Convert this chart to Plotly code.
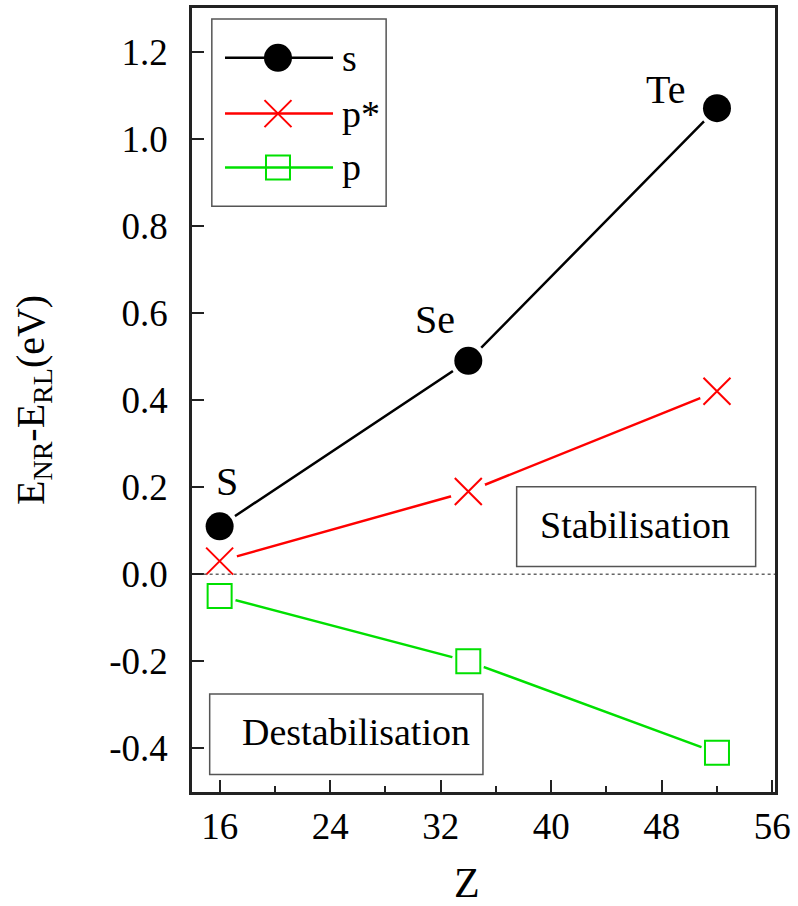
import plotly.graph_objects as go

# Atomic numbers of the chalcogens and relativistic corrections (eV)
elements = ["S", "Se", "Te"]
z_values = [16, 34, 52]
s_shift = [0.11, 0.49, 1.07]
pstar_shift = [0.03, 0.19, 0.42]
p_shift = [-0.05, -0.20, -0.41]

x_ticks = [16, 24, 32, 40, 48, 56]
y_ticks = [-0.4, -0.2, 0.0, 0.2, 0.4, 0.6, 0.8, 1.0, 1.2]

SERIF = "Liberation Serif, Times New Roman, serif"
GREEN = "#00e000"
RED = "#ff0000"

series = [
    ("s", s_shift, "black", dict(symbol="circle", size=28, color="black")),
    ("p*", pstar_shift, RED, dict(symbol="x-thin-open", size=27, color=RED,
                                    line=dict(color=RED, width=2))),
    ("p", p_shift, GREEN, dict(symbol="square-open", size=24, color=GREEN,
                               line=dict(color=GREEN, width=2))),
]

fig = go.Figure()

# connecting lines
for name, vals, col, mk in series:
    fig.add_trace(go.Scatter(x=z_values, y=vals, mode="lines",
                             line=dict(color=col, width=2.5),
                             showlegend=False, hoverinfo="skip"))
# white halos leave a small gap between line and symbol
for name, vals, col, mk in series:
    fig.add_trace(go.Scatter(x=z_values, y=vals, mode="markers",
                             marker=dict(symbol="circle", size=mk["size"] + 9,
                                         color="white"),
                             showlegend=False, hoverinfo="skip"))
for name, vals, col, mk in series:
    fig.add_trace(go.Scatter(x=z_values, y=vals, mode="markers", marker=mk,
                             name=name, showlegend=False))

# hand-drawn legend on an overlay axis spanning the plot area
legend_rows = [0.9365, 0.8653, 0.7967]
leg_x0, leg_x1, leg_xm, leg_xt = 0.0566, 0.2419, 0.1475, 0.2539
for (name, vals, col, mk), ly in zip(series, legend_rows):
    fig.add_trace(go.Scatter(x=[leg_x0, leg_x1], y=[ly, ly], mode="lines",
                             line=dict(color=col, width=2.5),
                             xaxis="x2", yaxis="y2", showlegend=False,
                             hoverinfo="skip"))
    fig.add_trace(go.Scatter(x=[leg_xm], y=[ly], mode="markers", marker=mk,
                             xaxis="x2", yaxis="y2", showlegend=False,
                             hoverinfo="skip"))
    fig.add_annotation(x=leg_xt, y=ly, xref="x2", yref="y2", text=name,
                       showarrow=False, xanchor="left", yanchor="middle",
                       font=dict(family=SERIF, size=38, color="black"))

shapes = [
    # zero reference line
    dict(type="line", xref="x domain", yref="y", x0=0.02, x1=1, y0=0, y1=0,
         line=dict(color="#666666", width=1.5, dash="dot")),
    # legend frame
    dict(type="rect", xref="paper", yref="paper", x0=0.034, x1=0.333,
         y0=0.747, y1=0.986, line=dict(color="#555555", width=1.5)),
    # region label frames
    dict(type="rect", xref="x", yref="y", x0=37.5, x1=54.8, y0=0.018, y1=0.201,
         line=dict(color="#555555", width=1.5)),
    dict(type="rect", xref="x", yref="y", x0=15.28, x1=35.06, y0=-0.46, y1=-0.275,
         line=dict(color="#555555", width=1.5)),
]

annotations = [
    dict(x=46.1, y=0.112, xref="x", yref="y", text="Stabilisation",
         showarrow=False, font=dict(family=SERIF, size=38, color="black")),
    dict(x=25.9, y=-0.362, xref="x", yref="y", text="Destabilisation",
         showarrow=False, font=dict(family=SERIF, size=38, color="black")),
]
label_pos = [(16.5, 0.213), (31.6, 0.585), (48.3, 1.113)]
for el, (lx, ly) in zip(elements, label_pos):
    annotations.append(dict(x=lx, y=ly, xref="x", yref="y", text=el,
                            showarrow=False,
                            font=dict(family=SERIF, size=40, color="black")))
annotations.append(dict(x=0.472, y=0, xref="paper", yref="paper", text="Z",
                        showarrow=False, yanchor="top", yshift=-66,
                        font=dict(family=SERIF, size=42, color="black")))
annotations.append(dict(x=0, y=0.5, xref="paper", yref="paper",
                        text="E<sub>NR</sub>-E<sub>RL</sub>(eV)",
                        textangle=-90, showarrow=False, xanchor="center",
                        xshift=-159,
                        font=dict(family=SERIF, size=40, color="black")))

fig.update_layout(
    width=798, height=906,
    margin=dict(l=192, r=23, t=5, b=114),
    paper_bgcolor="white", plot_bgcolor="white",
    showlegend=False,
    shapes=shapes,
    annotations=fig.layout.annotations + tuple(annotations),
    xaxis=dict(range=[14, 56.2], tickvals=x_ticks, ticks="inside", ticklen=12,
               tickwidth=2, tickcolor="#222222",
               minor=dict(dtick=4, tick0=0, ticks="inside", ticklen=6,
                          tickwidth=2, tickcolor="#222222"),
               showline=True, linecolor="#222222", linewidth=2.5, mirror=True,
               showgrid=False, zeroline=False, ticklabelstandoff=0,
               tickfont=dict(family=SERIF, size=37, color="black")),
    yaxis=dict(range=[-0.5, 1.3], tickvals=y_ticks,
               ticktext=[f"{v:.1f}" for v in y_ticks],
               ticks="inside", ticklen=12, tickwidth=2, tickcolor="#222222",
               showline=True, linecolor="#222222", linewidth=2.5, mirror=True,
               showgrid=False, zeroline=False, ticklabelstandoff=14,
               tickfont=dict(family=SERIF, size=37, color="black")),
    xaxis2=dict(range=[0, 1], overlaying="x", visible=False, fixedrange=True),
    yaxis2=dict(range=[0, 1], overlaying="y", visible=False, fixedrange=True),
)

fig.write_html("out.html")
